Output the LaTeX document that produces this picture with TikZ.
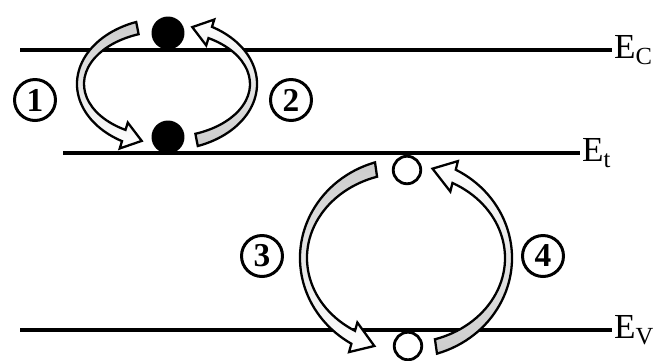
\documentclass[tikz,border=0pt]{standalone}
\usepackage{fontspec}
\setmainfont{Liberation Serif}
\usetikzlibrary{positioning}
% band arrow along an ellipse arc: style, centre, rx, ry, half width x, half width y, start, end
\newcommand{\bandarrow}[8]{%
  \pgfmathsetmacro\rxo{#3+#5}\pgfmathsetmacro\ryo{#4+#6}%
  \pgfmathsetmacro\rxi{#3-#5}\pgfmathsetmacro\ryi{#4-#6}%
  \pgfmathsetmacro\rxb{#3+2.3*#5}\pgfmathsetmacro\ryb{#4+2.3*#6}%
  \pgfmathsetmacro\rxc{#3-2.3*#5}\pgfmathsetmacro\ryc{#4-2.3*#6}%
  \pgfmathsetmacro\hb{#8-13}%
  \draw[arcarrow,#1,shift={#2}] ({#7}:{\rxo} and {\ryo})
    arc[start angle=#7,end angle=\hb,x radius=\rxo,y radius=\ryo]
    -- ({\hb}:{\rxb} and {\ryb}) -- ({#8}:{#3} and {#4}) -- ({\hb}:{\rxc} and {\ryc})
    -- ({\hb}:{\rxi} and {\ryi})
    arc[start angle=\hb,end angle=#7,x radius=\rxi,y radius=\ryi] -- cycle;}

\begin{document}
\begin{tikzpicture}[x=0.02cm,y=0.02cm,
  level/.style={line width=1.9pt},
  lvlname/.style={anchor=west,inner sep=1pt,font=\fontsize{20}{22}\selectfont},
  arcarrow/.style={draw=black,line width=1.3pt,line join=miter},
  tailtop/.style={top color=gray!40,middle color=white,bottom color=white},
  tailbot/.style={bottom color=gray!40,middle color=white,top color=white},
  numcirc/.style={draw,circle,line width=1.7pt,minimum size=0.82cm,inner sep=0pt,
    font=\fontsize{19}{19}\selectfont\bfseries},
  edot/.style={circle,fill=black,minimum size=0.66cm,inner sep=0pt},
  hdot/.style={circle,draw,fill=white,line width=1.6pt,minimum size=0.55cm,inner sep=0pt}]
  \useasboundingbox (0,0) rectangle (670,360);

  % energy levels
  \coordinate (ecl) at (20,310);
  \coordinate (etl) at (63,207);
  \coordinate (evl) at (20,30);
  \node[lvlname] (ec) at (612,310) {E\textsubscript{C}};
  \node[lvlname] (et) at (580,207) {E\textsubscript{t}};
  \node[lvlname] (ev) at (612,30) {E\textsubscript{V}};
  \draw[level] (ecl) -- (ec.west);
  \draw[level] (etl) -- (et.west);
  \draw[level] (evl) -- (ev.west);

  % electron capture / emission
  \bandarrow{tailtop}{(167,276)}{86.5}{59.5}{3.5}{6.5}{110}{253}
  \bandarrow{tailbot}{(167,276)}{86.5}{59.5}{3.5}{6.5}{-70}{73}
  \node[edot] (e1) at (168,327) {};
  \node[edot] (e2) at (168,223) {};

  % hole capture / emission
  \bandarrow{tailtop}{(406,102)}{102.5}{92.5}{3.5}{7.5}{107}{252}
  \bandarrow{tailbot}{(406,102)}{102.5}{92.5}{3.5}{7.5}{-73}{75}
  \node[hdot] (h1) at (407,190) {};
  \node[hdot] (h2) at (408,14) {};

  \node[numcirc] (n1) at (35,260) {1};
  \node[numcirc] (n2) at (291,260) {2};
  \node[numcirc] (n3) at (262,104) {3};
  \node[numcirc] (n4) at (543,104) {4};
\end{tikzpicture}
\end{document}
